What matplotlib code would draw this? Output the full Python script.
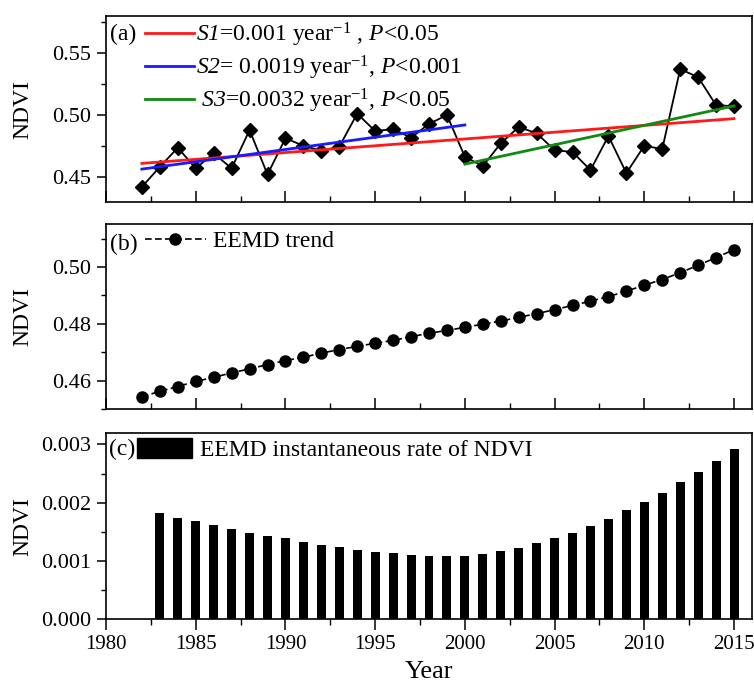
import matplotlib
matplotlib.use('Agg')
import matplotlib.pyplot as plt
from matplotlib.ticker import MultipleLocator, FormatStrFormatter
from matplotlib.patches import Patch

plt.rcParams['font.family'] = 'Liberation Serif'
plt.rcParams['mathtext.fontset'] = 'custom'
plt.rcParams['mathtext.rm'] = 'Liberation Serif'
plt.rcParams['mathtext.it'] = 'Liberation Serif:italic'
plt.rcParams['mathtext.cal'] = 'Liberation Serif:italic'

# ---------------- data ----------------
years = list(range(1982, 2016))
ndvi_obs = [0.4424, 0.4585, 0.4739, 0.4573, 0.4694, 0.4573, 0.4881, 0.4524,
            0.4815, 0.4755, 0.4715, 0.4747, 0.5013, 0.4873, 0.4889, 0.4820,
            0.4930, 0.5002, 0.4666, 0.4591, 0.4774, 0.4906, 0.4855, 0.4720,
            0.4704, 0.4559, 0.4833, 0.4535, 0.4755, 0.4728, 0.5371, 0.5306,
            0.5081, 0.5073]

s1_years = [1982, 2015]
s1_vals = [0.4613, 0.4973]
s2_years = [1982, 2000]
s2_vals = [0.4567, 0.4922]
s3_years = [2000, 2015]
s3_vals = [0.4607, 0.5075]

eemd_trend = [0.4544, 0.4563, 0.4580, 0.4598, 0.4612, 0.4628, 0.4642, 0.4657,
              0.4671, 0.4683, 0.4697, 0.4710, 0.4721, 0.4732, 0.4742, 0.4755,
              0.4767, 0.4777, 0.4788, 0.4799, 0.4810, 0.4823, 0.4836, 0.4850,
              0.4865, 0.4880, 0.4896, 0.4915, 0.4936, 0.4956, 0.4980, 0.5006,
              0.5033, 0.5061]

rate_years = list(range(1983, 2016))
eemd_rate = [0.001818, 0.001743, 0.001686, 0.001612, 0.001544, 0.001486,
             0.001429, 0.001389, 0.001326, 0.001274, 0.001235, 0.001194,
             0.001160, 0.001137, 0.001108, 0.001091, 0.001091, 0.001091,
             0.001120, 0.001171, 0.001223, 0.001303, 0.001389, 0.001480,
             0.001600, 0.001726, 0.001870, 0.002007, 0.002161, 0.002350,
             0.002527, 0.002710, 0.002916]

s1_label = r'$\mathcal{S1}$=0.001 year$^{\mathrm{-1}}$ , $\mathcal{P}$<0.05'
s2_label = r'$\mathcal{S2}$= 0.0019 year$^{\mathrm{-1}}$, $\mathcal{P}$<0.001'
s3_label = r' $\mathcal{S3}$=0.0032 year$^{\mathrm{-1}}$, $\mathcal{P}$<0.05'

# ---------------- figure ----------------
FS_XTICK = 15
FS_YTICK = 16
FS_LAB = 17
FS_LEG = 17

fig = plt.figure(figsize=(7.54, 6.91), dpi=100)
L, W = 0.1406, 0.8567
axa = fig.add_axes([L, 0.7072, W, 0.2700])
axb = fig.add_axes([L, 0.4077, W, 0.2677])
axc = fig.add_axes([L, 0.1037, W, 0.2700])

for ax in (axa, axb, axc):
    ax.set_xlim(1980, 2016)
    ax.xaxis.set_major_locator(MultipleLocator(5))
    ax.xaxis.set_minor_locator(MultipleLocator(2.5))
    for s in ax.spines.values():
        s.set_linewidth(1.2)
    ax.tick_params(axis='y', which='major', direction='out', length=6.5, width=1.1,
                   labelsize=FS_YTICK, pad=4)
    ax.tick_params(axis='y', which='minor', direction='out', length=3.5, width=1.0)
    ax.set_ylabel('NDVI', fontsize=FS_LAB)
    ax.yaxis.set_label_coords(-0.113, 0.5)

for ax in (axa, axb):
    ax.tick_params(axis='x', which='major', direction='in', length=8, width=1.1,
                   labelbottom=False)
    ax.tick_params(axis='x', which='minor', direction='in', length=4.5, width=1.0)

axc.tick_params(axis='x', which='major', direction='out', length=8, width=1.1,
                labelsize=FS_XTICK, pad=3)
axc.tick_params(axis='x', which='minor', direction='out', length=4, width=1.0)

# ---- panel (a)
axa.plot(years, ndvi_obs, color='black', lw=1.3, marker='D', markersize=7.5,
         zorder=2)
la1, = axa.plot(s1_years, s1_vals, color='#ff1a1a', lw=2.0, zorder=3)
la2, = axa.plot(s2_years, s2_vals, color='#1a1aff', lw=2.0, zorder=3)
la3, = axa.plot(s3_years, s3_vals, color='#108a10', lw=2.0, zorder=3)
axa.set_ylim(0.43, 0.58)
axa.yaxis.set_major_locator(MultipleLocator(0.05))
axa.yaxis.set_minor_locator(MultipleLocator(0.025))
axa.yaxis.set_major_formatter(FormatStrFormatter('%.2f'))
axa.legend([la1, la2, la3], [s1_label, s2_label, s3_label], loc='upper left',
           bbox_to_anchor=(0.045, 1.025), frameon=False, fontsize=FS_LEG,
           handlelength=2.1, handletextpad=0.1, labelspacing=0.2,
           borderaxespad=0.0)
axa.text(0.006, 0.9, '(a)', transform=axa.transAxes, fontsize=FS_LEG,
         ha='left', va='center')

# ---- panel (b)
lb, = axb.plot(years, eemd_trend, color='black', lw=1.2, ls=(0, (4, 2)),
               marker='o', markersize=8)
axb.set_ylim(0.45, 0.515)
axb.yaxis.set_major_locator(MultipleLocator(0.02))
axb.yaxis.set_minor_locator(MultipleLocator(0.01))
axb.yaxis.set_major_formatter(FormatStrFormatter('%.2f'))
axb.legend([lb], ['EEMD trend'], loc='upper left', bbox_to_anchor=(0.045, 1.015),
           frameon=False, fontsize=FS_LEG, handlelength=2.6,
           handletextpad=0.3, borderaxespad=0.0, numpoints=1)
axb.text(0.006, 0.89, '(b)', transform=axb.transAxes, fontsize=FS_LEG,
         ha='left', va='center')

# ---- panel (c)
axc.bar(rate_years, eemd_rate, width=0.5, color='black')
axc.set_ylim(0, 0.0032)
axc.yaxis.set_major_locator(MultipleLocator(0.001))
axc.yaxis.set_minor_locator(MultipleLocator(0.0005))
axc.yaxis.set_major_formatter(FormatStrFormatter('%.3f'))
axc.legend([Patch(facecolor='black', edgecolor='black')],
           ['EEMD instantaneous rate of NDVI'], loc='upper left',
           bbox_to_anchor=(0.034, 1.02), frameon=False, fontsize=FS_LEG,
           handlelength=2.3, handleheight=0.9, handletextpad=0.35,
           borderaxespad=0.0)
axc.text(0.004, 0.91, '(c)', transform=axc.transAxes, fontsize=FS_LEG,
         ha='left', va='center')
axc.set_xlabel('Year', fontsize=FS_LAB + 2, labelpad=5)

fig.savefig('out.png', dpi=100)
